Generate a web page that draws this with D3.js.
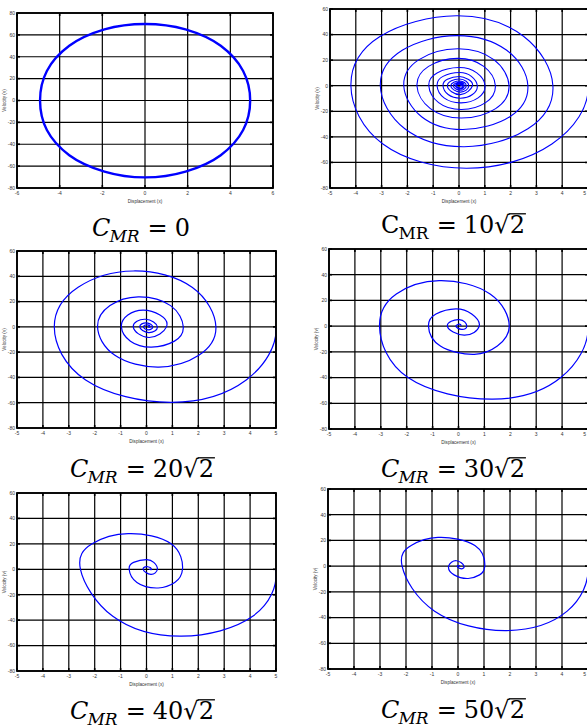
<!DOCTYPE html>
<html>
<head>
<meta charset="utf-8">
<script src="https://cdn.jsdelivr.net/npm/d3@7"></script>
<style>
  html, body { margin: 0; padding: 0; background: #fff; }
  svg { display: block; }
</style>
</head>
<body>
<div id="chart"></div>
<script>
// tick values
const xTicksWide = [-6, -4, -2, 0, 2, 4, 6];
const yTicksWide = [-80, -60, -40, -20, 0, 20, 40, 60, 80];
const xTicksNarrow = [-5, -4, -3, -2, -1, 0, 1, 2, 3, 4, 5];
const yTicksNarrow = [-80, -60, -40, -20, 0, 20, 40, 60];

// C_MR coefficient shown under each panel (times sqrt 2, except the first)
const dampingCoef = ['0', '10', '20', '30', '40', '50'];

// C_MR = 0 : closed orbit, read clockwise from the right end
const disp0 = [4.93, 4.6, 3.55, 1.9, 0, -1.9, -3.55, -4.6, -4.92, -4.6, -3.55, -1.9, 0, 1.9, 3.55, 4.6];
const vel0 = [0, -27, -50, -65, -70.3, -65, -50, -27, 0, 27, 50, 65, 70, 65, 50, 27];

// C_MR = 10 sqrt 2
const disp1 = [5, 3.6, 0.3, -2.95, -4.19, -3.05, -0.1, 2.5,
  3.64, 2.67, 0.2, -2.1, -3.05, -2.2, -0.1, 1.85,
  2.67, 1.97, 0.15, -1.45, -2.14, -1.55, -0.05, 1.35,
  1.94, 1.42, 0.1, -1.11, -1.63, -1.18, -0.05, 0.96,
  1.41, 1.03, 0.1, -0.79, -1.17, -0.85, 0, 0.69,
  1.01, 0.74, 0.08, -0.58, -0.85, -0.62, 0.02, 0.48,
  0.71, 0.52, 0.06, -0.42, -0.62, -0.45, 0.02, 0.35,
  0.52, 0.05, -0.45, 0.02, 0.38, 0.05, -0.32, 0.03,
  0.28, 0.05, -0.22, 0.03, 0.2, 0.05, -0.14, 0.03,
  0.15, 0.05, -0.09, 0.03, 0.1, 0.04];
const vel1 = [0, -45.6, -64.5, -45.6, 0, 38.7, 54.7, 38.7,
  0, -33.7, -47.7, -33.7, 0, 27.7, 39.2, 27.7,
  0, -24.3, -34.3, -24.3, 0, 20.4, 28.9, 20.4,
  0, -17.9, -25.3, -17.9, 0, 15.1, 21.4, 15.1,
  0, -13.2, -18.6, -13.2, 0, 10, 14.2, 10,
  0, -9.5, -13.4, -9.5, 0, 7.3, 10.3, 7.3,
  0, -6.9, -9.8, -6.9, 0, 5.1, 7.2, 5.1,
  0, -7, 0, 5.2, 0, -5, 0, 3.7,
  0, -3.6, 0, 2.6, 0, -2.6, 0, 1.8,
  0, -1.8, 0, 1.2, 0, 0];

// C_MR = 20 sqrt 2
const disp2 = [5, 3.85, 0.97, -2.35, -3.56, -2.64, -0.51, 1.76,
  2.68, 2.02, 0.48, -1.22, -1.89, -1.41, -0.32, 0.93,
  1.42, 1.08, 0.19, -0.62, -0.97, -0.72, -0.13, 0.52,
  0.77, 0.1, -0.51, -0.04, 0.42, 0.08, -0.26, 0,
  0.24, 0.06, -0.12, 0.03, 0.14, 0.05];
const vel2 = [0, -42, -59.7, -42, 0, 31.3, 44.2, 31.3,
  0, -22.5, -31.8, -22.5, 0, 16.8, 23.7, 16.8,
  0, -11.3, -16, -11.3, 0, 9.3, 13.2, 9.3,
  0, -8.4, 0, 6, 0, -4.5, 0, 3.2,
  0, -2.4, 0, 1.6, 0, 0];

// C_MR = 30 sqrt 2
const disp3 = [5, 3.95, 1.32, -1.95, -3.05, -2.4, -0.75, 1.22,
  1.96, 1.5, 0.61, -0.7, -1.16, -0.87, -0.1, 0.51,
  0.8, 0.22, -0.43, 0.03, 0.32, 0.12, -0.1, 0.05, 0.1];
const vel3 = [0, -40, -56.8, -40, 0, 25, 35.4, 25,
  0, -15.5, -21.9, -15.5, 0, 9.5, 13.5, 9.5,
  0, -7, 0, 5, 0, -2.5, 0, 1.5, 0];

// C_MR = 40 sqrt 2
const disp4 = [5, 4.1, 1.35, -1.3, -2.55, -2.1, -0.71, 0.95,
  1.39, 1.09, 0.45, -0.37, -0.67, -0.5, 0, 0.28,
  0.42, 0.17, -0.13, 0.05, 0.19, 0.1];
const vel4 = [0, -37, -52.6, -37, 0, 20, 28, 20,
  0, -10.4, -14.7, -10.4, 0, 5.4, 7.6, 5.4,
  0, -4, 0, 2, 0, 0];

// C_MR = 50 sqrt 2
const disp5 = [5, 4.2, 1.87, -0.9, -2.15, -1.8, -0.77, 0.65,
  1.03, 0.83, 0.39, -0.15, -0.36, -0.06, 0.23, 0.1, -0.03, 0.08];
const vel5 = [0, -35, -50.1, -35, 0, 16, 22.3, 16,
  0, -6.8, -9.6, -6.8, 0, 4.2, 0, -2, 0, 0.3];

const width = 587;
const height = 728;

const panels = [
  { left: 17, right: 273, top: 13, bottom: 188, xt: xTicksWide, yt: yTicksWide, d: disp0, v: vel0, closed: true, lw: 2.4, cx: 141, base: 236, upright: false },
  { left: 330, right: 588, top: 9, bottom: 188, xt: xTicksNarrow, yt: yTicksNarrow, d: disp1, v: vel1, lw: 1.1, cx: 453, base: 233, upright: true },
  { left: 17, right: 276, top: 251, bottom: 428, xt: xTicksNarrow, yt: yTicksNarrow, d: disp2, v: vel2, lw: 1.2, cx: 142, base: 477, upright: false },
  { left: 329, right: 588, top: 249, bottom: 429, xt: xTicksNarrow, yt: yTicksNarrow, d: disp3, v: vel3, lw: 1.2, cx: 453, base: 477, upright: false },
  { left: 17, right: 276, top: 493, bottom: 671, xt: xTicksNarrow, yt: yTicksNarrow, d: disp4, v: vel4, lw: 1.2, cx: 142, base: 719, upright: false },
  { left: 328, right: 588, top: 489, bottom: 669, xt: xTicksNarrow, yt: yTicksNarrow, d: disp5, v: vel5, lw: 1.2, cx: 453, base: 718, upright: false }
];

const svg = d3.select('#chart')
  .append('svg')
  .attr('width', width)
  .attr('height', height);

const tickFont = '"Liberation Sans", Arial, sans-serif';
const captionFont = '"DejaVu Serif", "Liberation Serif", serif';

// Path context that drops the first segment (used so the spiral leaves
// its starting point at rest, i.e. with a vertical tangent)
const dropFirstSegment = () => {
  const p = d3.path();
  let n = 0;
  return {
    path: p,
    moveTo(x, y) { p.moveTo(x, y); },
    lineTo(x, y) { if (n++ < 1) p.moveTo(x, y); else p.lineTo(x, y); },
    bezierCurveTo(a, b, c, d, x, y) {
      if (n++ < 1) p.moveTo(x, y);
      else p.bezierCurveTo(a, b, c, d, x, y);
    },
    closePath() { p.closePath(); }
  };
};

// Caption like C_MR = 20√2
const drawCaption = (p, coef) => {
  const g = svg.append('g');
  let pos = 0;
  const fs = 24;
  const piece = (txt, opts = {}) => {
    const t = g.append('text')
      .attr('x', pos)
      .attr('y', opts.dy || 0)
      .style('font-family', captionFont)
      .style('font-size', `${opts.size || fs}px`)
      .style('font-style', opts.italic ? 'italic' : 'normal')
      .text(txt);
    const w = t.node().getComputedTextLength();
    const start = pos;
    pos += w + (opts.gap || 0);
    return { start, w };
  };
  piece('C', { italic: !p.upright, gap: -1 });
  piece('MR', { italic: !p.upright, size: 17, dy: 6, gap: 8 });
  piece('=', { gap: 7 });
  if (coef === '0') {
    piece('0');
  } else {
    piece(coef, { gap: 0 });
    const r = piece('\u221A', { gap: 0 });
    const two = piece('2');
    g.append('line')
      .attr('x1', r.start + r.w - 1)
      .attr('x2', two.start + two.w + 1)
      .attr('y1', -fs * 0.8)
      .attr('y2', -fs * 0.8)
      .attr('stroke', '#000')
      .attr('stroke-width', 1.3);
  }
  g.attr('transform', `translate(${p.cx - pos / 2},${p.base})`);
};

panels.forEach((p, i) => {
  const x = d3.scaleLinear()
    .domain(d3.extent(p.xt))
    .range([p.left, p.right]);
  const y = d3.scaleLinear()
    .domain(d3.extent(p.yt))
    .range([p.bottom, p.top]);

  const g = svg.append('g');

  // grid
  g.selectAll('line.vgrid')
    .data(p.xt)
    .enter()
    .append('line')
    .attr('x1', (d) => x(d))
    .attr('x2', (d) => x(d))
    .attr('y1', p.top)
    .attr('y2', p.bottom)
    .attr('stroke', '#000')
    .attr('stroke-width', 1.2);

  g.selectAll('line.hgrid')
    .data(p.yt)
    .enter()
    .append('line')
    .attr('x1', p.left)
    .attr('x2', p.right)
    .attr('y1', (d) => y(d))
    .attr('y2', (d) => y(d))
    .attr('stroke', '#000')
    .attr('stroke-width', 1.2);

  // inside tick marks
  p.xt.forEach((d) => {
    g.append('line').attr('x1', x(d)).attr('x2', x(d)).attr('y1', p.top).attr('y2', p.top + 3)
      .attr('stroke', '#000').attr('stroke-width', 1.6);
    g.append('line').attr('x1', x(d)).attr('x2', x(d)).attr('y1', p.bottom).attr('y2', p.bottom - 3)
      .attr('stroke', '#000').attr('stroke-width', 1.6);
  });
  p.yt.forEach((d) => {
    g.append('line').attr('x1', p.left).attr('x2', p.left + 3).attr('y1', y(d)).attr('y2', y(d))
      .attr('stroke', '#000').attr('stroke-width', 1.6);
    g.append('line').attr('x1', p.right).attr('x2', p.right - 3).attr('y1', y(d)).attr('y2', y(d))
      .attr('stroke', '#000').attr('stroke-width', 1.6);
  });

  // tick labels (the last one is kept inside the page)
  g.selectAll('text.xt')
    .data(p.xt)
    .enter()
    .append('text')
    .attr('x', (d) => Math.min(x(d), width - 1))
    .attr('y', p.bottom + 7)
    .attr('text-anchor', (d) => (x(d) > width - 2 ? 'end' : 'middle'))
    .style('font-family', tickFont)
    .style('font-size', '5px')
    .attr('fill', '#333')
    .text((d) => d);

  g.selectAll('text.yt')
    .data(p.yt)
    .enter()
    .append('text')
    .attr('x', p.left - 2)
    .attr('y', (d) => y(d) + 1.8)
    .attr('text-anchor', 'end')
    .style('font-family', tickFont)
    .style('font-size', '5px')
    .attr('fill', '#333')
    .text((d) => d);

  // axis labels
  g.append('text')
    .attr('x', (p.left + p.right) / 2)
    .attr('y', p.bottom + 15)
    .attr('text-anchor', 'middle')
    .style('font-family', tickFont)
    .style('font-size', '4.6px')
    .attr('fill', '#333')
    .text('Displacement (x)');

  g.append('text')
    .attr('transform', `translate(${p.left - 11},${(p.top + p.bottom) / 2}) rotate(-90)`)
    .attr('text-anchor', 'middle')
    .style('font-family', tickFont)
    .style('font-size', '4.6px')
    .attr('fill', '#333')
    .text('Velocity (v)');

  // clip for the trajectory
  svg.append('clipPath')
    .attr('id', `clip${i}`)
    .append('rect')
    .attr('x', p.left)
    .attr('y', p.top)
    .attr('width', p.right - p.left)
    .attr('height', p.bottom - p.top);

  const pts = d3.zip(p.d, p.v);
  let pathD;
  if (p.closed) {
    pathD = d3.line()
      .x((d) => x(d[0]))
      .y((d) => y(d[1]))
      .curve(d3.curveCatmullRomClosed)(pts);
  } else {
    // mirror of the second point stands for the instant before release;
    // its segment is dropped so only the recorded trajectory is drawn
    const lead = [pts[1][0], -pts[1][1]];
    const ctx = dropFirstSegment();
    d3.line()
      .x((d) => x(d[0]))
      .y((d) => y(d[1]))
      .curve(d3.curveNatural)
      .context(ctx)([lead, ...pts]);
    pathD = ctx.path.toString();
  }

  g.append('path')
    .attr('d', pathD)
    .attr('clip-path', `url(#clip${i})`)
    .attr('fill', 'none')
    .attr('stroke', '#0000ff')
    .attr('stroke-width', p.lw);

  // frame
  g.append('rect')
    .attr('x', p.left)
    .attr('y', p.top)
    .attr('width', p.right - p.left)
    .attr('height', p.bottom - p.top)
    .attr('fill', 'none')
    .attr('stroke', '#000')
    .attr('stroke-width', 1.8);

  drawCaption(p, dampingCoef[i]);
});
</script>
</body>
</html>
